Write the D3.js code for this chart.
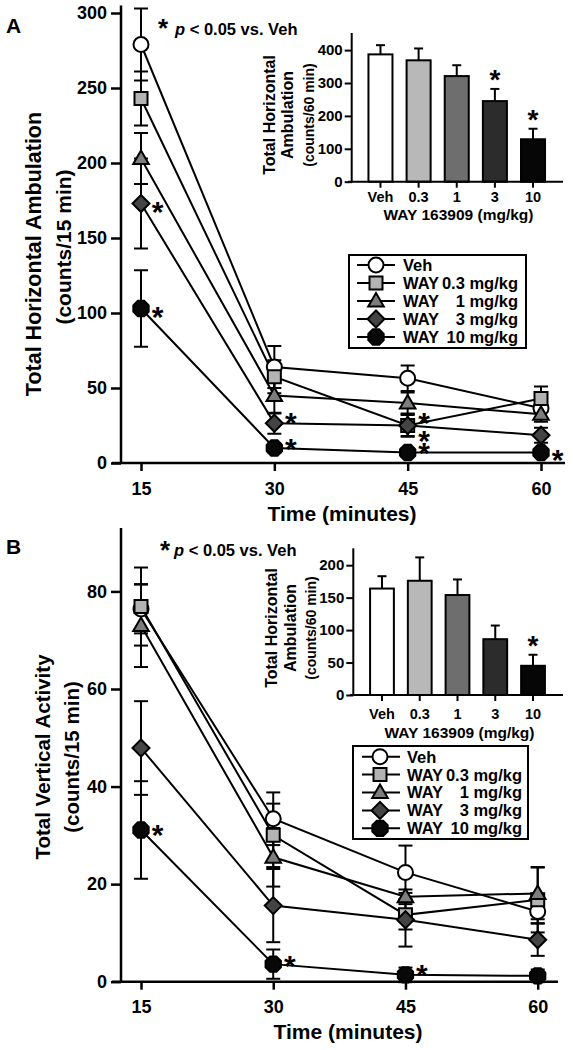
<!DOCTYPE html>
<html>
<head>
<meta charset="utf-8">
<script src="https://cdn.jsdelivr.net/npm/d3@7"></script>
<style>
  html, body { margin: 0; padding: 0; background: #fff; }
  svg { display: block; }
  text { font-family: "Liberation Sans", Arial, sans-serif; font-weight: bold; fill: #000; }
</style>
</head>
<body>
<svg id="chart" width="573" height="1050"></svg>
<script>
// ---------------- DATA ----------------
const times = [15, 30, 45, 60];
const seriesKeys = ["Veh", "WAY 0.3 mg/kg", "WAY 1 mg/kg", "WAY 3 mg/kg", "WAY 10 mg/kg"];
const legendPrefix = ["Veh", "WAY", "WAY", "WAY", "WAY"];
const legendDose = ["", "0.3 mg/kg", "1 mg/kg", "3 mg/kg", "10 mg/kg"];

// Panel A: Total Horizontal Ambulation (counts/15 min)
const ambVeh  = [279, 64, 56.5, 36.5];
const ambVehErr = [24, 14, 8.5, 7];
const amb03   = [243, 57.5, 25, 43];
const amb03Err = [18, 11, 7, 8];
const amb1    = [203, 45, 40, 32.5];
const amb1Err = [17, 12, 7, 5];
const amb3    = [173, 26.5, 25, 18.5];
const amb3Err = [30, 7, 7.5, 5];
const amb10   = [103, 10, 7, 7];
const amb10Err = [25.5, 3, 3, 3];
const ambTicks = [0, 50, 100, 150, 200, 250, 300];

// Panel B: Total Vertical Activity (counts/15 min)
const vertVeh  = [76.4, 33.4, 22.4, 14.4];
const vertVehErr = [5, 5.4, 5.5, 2.4];
const vert03   = [76.9, 30, 13.7, 16.8];
const vert03Err = [8, 6.5, 3, 6.7];
const vert1    = [73, 25.5, 17.4, 18.1];
const vert1Err = [8.5, 6, 1.5, 5.3];
const vert3    = [47.9, 15.6, 12.7, 8.6];
const vert3Err = [9.6, 7.5, 5.5, 3.3];
const vert10   = [31.1, 3.6, 1.4, 1.2];
const vert10Err = [10, 3, 1.5, 1.3];
const vertTicks = [0, 20, 40, 60, 80];

// significance markers [time, series index]
const sigA = [[15, 3], [15, 4], [30, 3], [30, 4], [45, 1], [45, 3], [45, 4], [60, 4]];
const sigB = [[15, 4], [30, 4], [45, 4]];

// Insets: totals over 60 min
const doses = ["Veh", "0.3", "1", "3", "10"];
const insetA = [387, 369, 321, 245, 129];
const insetAErr = [28, 36, 33, 37, 32];
const insetATicks = [0, 100, 200, 300, 400];
const insetB = [164, 176, 154, 86, 45];
const insetBErr = [19, 36, 24, 21, 17];
const insetBTicks = [0, 50, 100, 150, 200];
const sigInsetA = ["3", "10"];
const sigInsetB = ["10"];

// ---------------- STYLES ----------------
const markerFill = ["#ffffff", "#b3b3b3", "#7d7d7d", "#444444", "#080808"];
const barFill = ["#ffffff", "#b8b8b8", "#6e6e6e", "#2c2c2c", "#060606"];
const markerShapes = ["circle", "square", "triangle", "diamond", "octagon"];
const STAR = 30;          // asterisk font size in plots
const STAR_OFF = 0.52;    // baseline offset (em) so that the glyph centre sits on target

const svg = d3.select("#chart");

function markerPath(shape) {
  const p = d3.path();
  if (shape === "circle") { p.arc(0, 0, 7.5, 0, 2 * Math.PI); }
  else if (shape === "square") { p.rect(-6.5, -6.5, 13, 13); }
  else if (shape === "triangle") { p.moveTo(0, -8); p.lineTo(7.8, 5.5); p.lineTo(-7.8, 5.5); p.closePath(); }
  else if (shape === "diamond") { p.moveTo(0, -8.5); p.lineTo(8.5, 0); p.lineTo(0, 8.5); p.lineTo(-8.5, 0); p.closePath(); }
  else {
    for (let i = 0; i < 8; i++) {
      const a = Math.PI / 8 + i * Math.PI / 4;
      const x = 8.3 * Math.cos(a), y = 8.3 * Math.sin(a);
      if (i === 0) p.moveTo(x, y); else p.lineTo(x, y);
    }
    p.closePath();
  }
  return p.toString();
}

function star(g, cx, cy, size) {
  g.append("text").attr("x", cx).attr("y", cy + STAR_OFF * size)
    .attr("text-anchor", "middle").style("font-size", size + "px").text("*");
}

function drawMain(opts) {
  const { x, y, series, errs, ticks, spineX, xAxisL, xAxisR, yTop, sig, sigDy } = opts;
  const g = svg.append("g");
  const ya = g.append("g").attr("transform", `translate(${spineX},0)`)
    .call(d3.axisLeft(y).tickValues(ticks).tickSize(10).tickPadding(4).tickSizeOuter(0));
  ya.select(".domain").remove();
  ya.selectAll(".tick line").attr("stroke", "#000").attr("stroke-width", 2.5);
  ya.selectAll(".tick text").style("font-size", "18px").attr("font-family", null);
  g.append("line").attr("x1", spineX).attr("x2", spineX).attr("y1", y(0) + 1).attr("y2", yTop)
    .attr("stroke", "#000").attr("stroke-width", 2.5);
  const xa = g.append("g").attr("transform", `translate(0,${y(0)})`)
    .call(d3.axisBottom(x).tickValues(times).tickSize(8).tickPadding(11).tickSizeOuter(0));
  xa.select(".domain").remove();
  xa.selectAll(".tick line").attr("stroke", "#000").attr("stroke-width", 2.5);
  xa.selectAll(".tick text").style("font-size", "18px").attr("font-family", null);
  g.append("line").attr("x1", xAxisL).attr("x2", xAxisR).attr("y1", y(0)).attr("y2", y(0))
    .attr("stroke", "#000").attr("stroke-width", 2.5);

  const line = d3.line().x((d, i) => x(times[i])).y(d => y(d));
  series.forEach(s => {
    g.append("path").attr("d", line(s)).attr("fill", "none").attr("stroke", "#000").attr("stroke-width", 2);
  });
  series.forEach((s, si) => {
    s.forEach((v, i) => {
      const cx = x(times[i]);
      const e = errs[si][i];
      g.append("line").attr("x1", cx).attr("x2", cx).attr("y1", y(v - e)).attr("y2", y(v + e))
        .attr("stroke", "#000").attr("stroke-width", 2);
      [v - e, v + e].forEach(ev => {
        g.append("line").attr("x1", cx - 7).attr("x2", cx + 7).attr("y1", y(ev)).attr("y2", y(ev))
          .attr("stroke", "#000").attr("stroke-width", 2);
      });
    });
  });
  series.forEach((s, si) => {
    s.forEach((v, i) => {
      g.append("path").attr("d", markerPath(markerShapes[si]))
        .attr("transform", `translate(${x(times[i])},${y(v)})`)
        .attr("fill", markerFill[si]).attr("stroke", "#000").attr("stroke-width", 2);
    });
  });
  sig.forEach((d, k) => {
    const ti = times.indexOf(d[0]);
    const v = series[d[1]][ti];
    star(g, x(d[0]) + 16.5, y(v) + sigDy[k], STAR);
  });
  return g;
}

function drawLegend(opts) {
  const { bx, by, bw, bh, rowY, symX, lineL, lineR, textX, doseR } = opts;
  const g = svg.append("g");
  g.append("rect").attr("x", bx).attr("y", by).attr("width", bw).attr("height", bh)
    .attr("fill", "#fff").attr("stroke", "#000").attr("stroke-width", 2);
  seriesKeys.forEach((k, i) => {
    const ry = rowY(i);
    g.append("line").attr("x1", lineL).attr("x2", lineR).attr("y1", ry).attr("y2", ry)
      .attr("stroke", "#000").attr("stroke-width", 2);
    g.append("path").attr("d", markerPath(markerShapes[i])).attr("transform", `translate(${symX},${ry})`)
      .attr("fill", markerFill[i]).attr("stroke", "#000").attr("stroke-width", 2);
    g.append("text").attr("x", textX).attr("y", ry).attr("dy", "0.36em").style("font-size", "16.5px").text(legendPrefix[i]);
    if (legendDose[i]) {
      g.append("text").attr("x", doseR).attr("y", ry).attr("dy", "0.36em").attr("text-anchor", "end")
        .style("font-size", "16.5px").text(legendDose[i]);
    }
  });
}

function drawInset(opts) {
  const { x, y, vals, errs, ticks, spineX, axL, axR, yTop, sig, labX, labY, tickLabY, titleY } = opts;
  const g = svg.append("g");
  const ya = g.append("g").attr("transform", `translate(${spineX},0)`)
    .call(d3.axisLeft(y).tickValues(ticks).tickSize(7).tickPadding(2).tickSizeOuter(0));
  ya.select(".domain").remove();
  ya.selectAll(".tick line").attr("stroke", "#000").attr("stroke-width", 2);
  ya.selectAll(".tick text").style("font-size", "15px").attr("font-family", null);
  g.append("line").attr("x1", spineX).attr("x2", spineX).attr("y1", y(0) + 1).attr("y2", yTop)
    .attr("stroke", "#000").attr("stroke-width", 2);
  doses.forEach((d, i) => {
    const cx = x(d) + x.bandwidth() / 2;
    const top = y(vals[i]);
    const et = y(vals[i] + errs[i]);
    g.append("line").attr("x1", cx).attr("x2", cx).attr("y1", top).attr("y2", et)
      .attr("stroke", "#000").attr("stroke-width", 2);
    g.append("line").attr("x1", cx - 4.5).attr("x2", cx + 4.5).attr("y1", et).attr("y2", et)
      .attr("stroke", "#000").attr("stroke-width", 2);
    g.append("rect").attr("x", x(d)).attr("y", top).attr("width", x.bandwidth()).attr("height", y(0) - top)
      .attr("fill", barFill[i]).attr("stroke", "#000").attr("stroke-width", 2);
    g.append("line").attr("x1", cx).attr("x2", cx).attr("y1", y(0)).attr("y2", y(0) + 6)
      .attr("stroke", "#000").attr("stroke-width", 2);
    g.append("text").attr("x", cx).attr("y", tickLabY).attr("dy", "0.36em").attr("text-anchor", "middle")
      .style("font-size", "14.5px").text(d);
    if (sig.includes(d)) star(g, cx, et - 14, 28);
  });
  g.append("line").attr("x1", axL).attr("x2", axR).attr("y1", y(0)).attr("y2", y(0))
    .attr("stroke", "#000").attr("stroke-width", 2);
  g.append("text").attr("x", (axL + axR) / 2 + 3).attr("y", titleY).attr("dy", "0.36em").attr("text-anchor", "middle")
    .style("font-size", "15.5px").text("WAY 163909 (mg/kg)");
  const lines = [["Total Horizontal", 16], ["Ambulation", 16], ["(counts/60 min)", 14]];
  lines.forEach((l, i) => {
    g.append("text").attr("transform", `translate(${labX[i]},${labY}) rotate(-90)`)
      .attr("text-anchor", "middle").attr("dy", "0.36em").style("font-size", l[1] + "px").text(l[0]);
  });
}

// ---------------- PANEL A ----------------
const xA = d3.scaleLinear().domain([15, 60]).range([141, 541]);
const yA = d3.scaleLinear().domain([0, 305]).range([463, 5.5]);
drawMain({
  x: xA, y: yA,
  series: [ambVeh, amb03, amb1, amb3, amb10],
  errs: [ambVehErr, amb03Err, amb1Err, amb3Err, amb10Err],
  ticks: ambTicks, spineX: 121, xAxisL: 112, xAxisR: 565, yTop: yA(305),
  sig: sigA, sigDy: [3, 3, -6, -5, -8, 10, -5, 2]
});
svg.append("text").attr("x", 6).attr("y", 33).style("font-size", "21px").text("A");
star(svg, 163, 23, 26);
svg.append("text").attr("x", 175).attr("y", 35).style("font-size", "16.5px")
  .html('<tspan font-style="italic">p</tspan> &lt; 0.05 vs. Veh');
svg.append("text").attr("transform", "translate(33,254) rotate(-90)").attr("text-anchor", "middle").attr("dy", "0.36em")
  .style("font-size", "21.5px").text("Total Horizontal Ambulation");
svg.append("text").attr("transform", "translate(63,247) rotate(-90)").attr("text-anchor", "middle").attr("dy", "0.36em")
  .style("font-size", "21px").text("(counts/15 min)");
svg.append("text").attr("x", 342).attr("y", 513).attr("dy", "0.36em").attr("text-anchor", "middle")
  .style("font-size", "21px").text("Time (minutes)");

drawLegend({ bx: 349, by: 255, bw: 177, bh: 93, rowY: i => 265 + i * 18, symX: 376, lineL: 357, lineR: 395, textX: 403, doseR: 518 });

const xIA = d3.scaleBand().domain(doses).range([361.4, 552.1]).paddingInner(0.37).paddingOuter(0.185);
const yIA = d3.scaleLinear().domain([0, 452]).range([181.7, 33]);
drawInset({ x: xIA, y: yIA, vals: insetA, errs: insetAErr, ticks: insetATicks, spineX: 351.7, axL: 348, axR: 563,
  yTop: yIA(452), sig: sigInsetA, labX: [269, 287.5, 308.5], labY: 115, tickLabY: 197, titleY: 214 });

// ---------------- PANEL B ----------------
const xB = d3.scaleLinear().domain([15, 60]).range([141, 537.7]);
const yB = d3.scaleLinear().domain([0, 93]).range([981.7, 528]);
drawMain({
  x: xB, y: yB,
  series: [vertVeh, vert03, vert1, vert3, vert10],
  errs: [vertVehErr, vert03Err, vert1Err, vert3Err, vert10Err],
  ticks: vertTicks, spineX: 121, xAxisL: 112, xAxisR: 558, yTop: yB(93),
  sig: sigB, sigDy: [-1, -4, -5]
});
svg.append("text").attr("x", 6).attr("y", 554).style("font-size", "21px").text("B");
star(svg, 165, 545, 26);
svg.append("text").attr("x", 174).attr("y", 556).style("font-size", "16.5px")
  .html('<tspan font-style="italic">p</tspan> &lt; 0.05 vs. Veh');
svg.append("text").attr("transform", "translate(43,757) rotate(-90)").attr("text-anchor", "middle").attr("dy", "0.36em")
  .style("font-size", "20.5px").text("Total Vertical Activity");
svg.append("text").attr("transform", "translate(72,757) rotate(-90)").attr("text-anchor", "middle").attr("dy", "0.36em")
  .style("font-size", "20.5px").text("(counts/15 min)");
svg.append("text").attr("x", 348).attr("y", 1031).attr("dy", "0.36em").attr("text-anchor", "middle")
  .style("font-size", "21px").text("Time (minutes)");

drawLegend({ bx: 353, by: 746, bw: 175, bh: 93, rowY: i => 756.7 + i * 17.9, symX: 380, lineL: 362, lineR: 400, textX: 407, doseR: 522 });

const xIB = d3.scaleBand().domain(doses).range([363.1, 551.9]).paddingInner(0.37).paddingOuter(0.185);
const yIB = d3.scaleLinear().domain([0, 226]).range([695, 548.3]);
drawInset({ x: xIB, y: yIB, vals: insetB, errs: insetBErr, ticks: insetBTicks, spineX: 353.3, axL: 350, axR: 563,
  yTop: yIB(226), sig: sigInsetB, labX: [271, 290, 310.5], labY: 628, tickLabY: 714, titleY: 732 });
</script>
</body>
</html>
